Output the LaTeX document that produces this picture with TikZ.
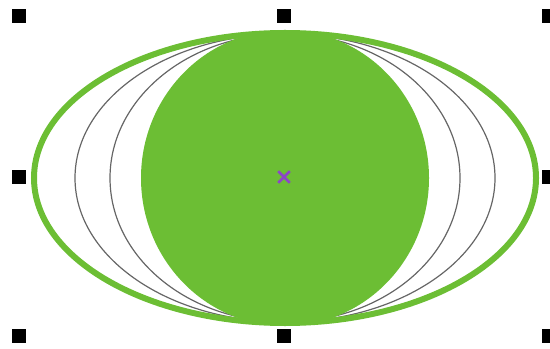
\documentclass[tikz,border=0pt]{standalone}
\usetikzlibrary{shapes.misc}
\definecolor{leafgreen}{RGB}{108,190,52}
\definecolor{markpurple}{RGB}{140,70,200}
\tikzset{
  handle/.style={
    fill=black,
    rectangle,
    minimum size=7pt,
    inner sep=0pt
  },
  ring/.style={
    draw=black!60,
    line width=0.6pt
  },
  rim/.style={
    draw=leafgreen,
    line width=3pt
  },
  centremark/.style={
    cross out,
    draw=markpurple,
    line width=1.3pt,
    minimum size=4.5pt,
    inner sep=0pt
  }
}

\begin{document}
\begin{tikzpicture}[x=0.5pt,y=0.5pt]
  \useasboundingbox (0,0) rectangle (550,348);
  \coordinate (c) at (285,170);

  % rings behind the disc
  \draw[ring] (c) ellipse [x radius=105pt, y radius=72pt];
  \draw[ring] (c) ellipse [x radius=87.5pt, y radius=72pt];
  \draw[rim] (c) ellipse [x radius=125.5pt, y radius=72.5pt];
  \fill[leafgreen] (c) ellipse [x radius=72pt, y radius=74pt];

  \node[centremark] (mark) at (284,171) {};

  % selection handles
  \node[handle] (tl) at (19,332) {};
  \node[handle] (tm) at (284,332) {};
  \node[handle] (tr) at (549,332) {};
  \node[handle] (ml) at (19,171) {};
  \node[handle] (mr) at (549,171) {};
  \node[handle] (bl) at (19,12) {};
  \node[handle] (bm) at (284,12) {};
  \node[handle] (br) at (549,12) {};
\end{tikzpicture}
\end{document}
